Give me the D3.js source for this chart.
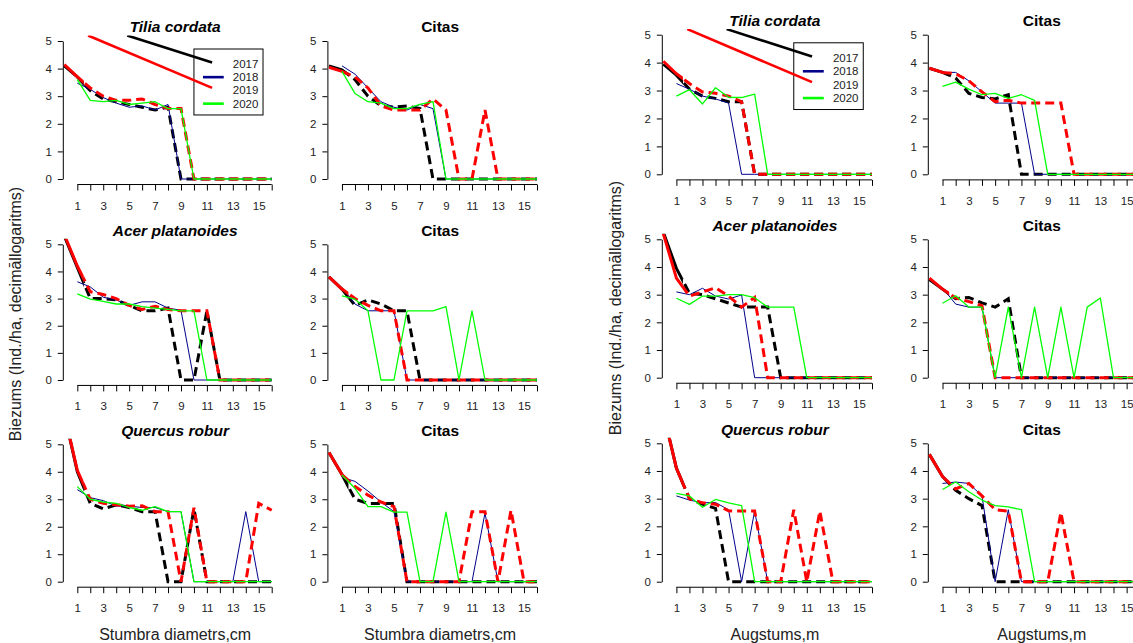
<!DOCTYPE html>
<html>
<head>
<meta charset="UTF-8">
<title>Biezums pa klasēm</title>
<script src="https://cdn.jsdelivr.net/npm/d3@7"></script>
<style>
  body { margin: 0; background: #fff; }
  text { font-family: "Liberation Sans", Arial, sans-serif; }
</style>
</head>
<body>
<div id="vis"></div>
<script>
// classes on the x axis (0 = first class, only measured in 2017 and 2019)
var classes = [0, 1, 2, 3, 4, 5, 6, 7, 8, 9, 10, 11, 12, 13, 14, 15, 16];
var years = ["2017", "2018", "2019", "2020"];
var yTicks = [0, 1, 2, 3, 4, 5];
var xTicks = [1, 2, 3, 4, 5, 6, 7, 8, 9, 10, 11, 12, 13, 14, 15, 16];
var xTickLabels = ["1", "", "3", "", "5", "", "7", "", "9", "", "11", "", "13", "", "15", ""];

// values: one row per year (2017, 2018, 2019, 2020), one column per class 0..16
var tiliaDiam = [
  [4.1, 3.7, 3.2, 2.9, 2.8, 2.7, 2.6, 2.5, 2.6, 0, 0, 0, 0, 0, 0, 0, 0],
  [null, 3.47, 3.25, 2.95, 2.75, 2.6, 2.65, 2.5, 2.7, 0, 0, 0, 0, 0, 0, 0, 0],
  [4.15, 3.7, 3.3, 3.0, 2.85, 2.85, 2.9, 2.7, 2.55, 2.55, 0, 0, 0, 0, 0, 0, 0],
  [null, 3.6, 2.85, 2.8, 2.85, 2.7, 2.75, 2.8, 2.55, 2.55, 0, 0, 0, 0, 0, 0, 0]
];
var tiliaCitasDiam = [
  [4.1, 3.95, 3.6, 3.0, 2.65, 2.6, 2.65, 2.55, 0, 0, 0, 0, 0, 0, 0, 0, 0],
  [null, 4.1, 3.8, 3.3, 2.8, 2.6, 2.5, 2.7, 2.55, 0, 0, 0, 0, 0, 0, 0, 0],
  [4.05, 3.9, 3.7, 3.3, 2.65, 2.5, 2.5, 2.5, 2.9, 2.5, 0, 0, 2.5, 0, 0, 0, 0],
  [null, 3.9, 3.1, 2.8, 2.75, 2.55, 2.55, 2.7, 2.8, 0, 0, 0, 0, 0, 0, 0, 0]
];
var tiliaHeight = [
  [3.95, 3.55, 3.05, 2.8, 2.72, 2.6, 2.6, 0, 0, 0, 0, 0, 0, 0, 0, 0, 0],
  [null, 3.25, 3.05, 2.8, 2.7, 2.55, 0, 0, 0, 0, 0, 0, 0, 0, 0, 0, 0],
  [4.05, 3.6, 3.25, 2.95, 2.9, 2.8, 2.6, 0, 0, 0, 0, 0, 0, 0, 0, 0, 0],
  [null, 2.8, 3.03, 2.52, 3.1, 2.76, 2.75, 2.87, 0, 0, 0, 0, 0, 0, 0, 0, 0]
];
var tiliaCitasHeight = [
  [3.8, 3.65, 3.45, 2.9, 2.75, 2.7, 2.85, 0, 0, 0, 0, 0, 0, 0, 0, 0, 0],
  [null, 3.65, 3.65, 3.35, 2.95, 2.55, 2.55, 2.55, 0, 0, 0, 0, 0, 0, 0, 0, 0],
  [3.8, 3.65, 3.6, 3.35, 2.95, 2.6, 2.65, 2.55, 2.55, 2.55, 2.55, 0, 0, 0, 0, 0, 0],
  [null, 3.15, 3.3, 3.05, 2.85, 2.9, 2.72, 2.85, 2.65, 0, 0, 0, 0, 0, 0, 0, 0]
];
var acerDiam = [
  [5.3, 4.15, 3.0, 3.0, 2.95, 2.75, 2.55, 2.55, 2.65, 0, 0, 2.55, 0, 0, 0, 0, 0],
  [null, 3.62, 3.43, 3.05, 2.95, 2.75, 2.88, 2.88, 2.65, 2.57, 0, 0, 0, 0, 0, 0, 0],
  [5.35, 4.2, 3.25, 3.15, 3.0, 2.75, 2.6, 2.72, 2.6, 2.55, 2.55, 2.55, 0, 0, 0, 0, 0],
  [null, 3.17, 2.98, 2.9, 2.8, 2.8, 2.7, 2.65, 2.6, 2.55, 2.55, 0, 0, 0, 0, 0, 0]
];
var acerCitasDiam = [
  [3.8, 3.35, 2.75, 2.95, 2.8, 2.55, 2.55, 0, 0, 0, 0, 0, 0, 0, 0, 0, 0],
  [null, 3.4, 2.8, 2.55, 2.55, 2.55, 0, 0, 0, 0, 0, 0, 0, 0, 0, 0, 0],
  [3.8, 3.35, 3.0, 2.75, 2.55, 2.55, 0, 0, 0, 0, 0, 0, 0, 0, 0, 0, 0],
  [null, 3.1, 2.98, 2.55, 0, 0, 2.55, 2.55, 2.55, 2.7, 0, 2.55, 0, 0, 0, 0, 0]
];
var acerHeight = [
  [5.25, 3.95, 3.05, 3.0, 2.85, 2.7, 2.55, 2.55, 2.55, 0, 0, 0, 0, 0, 0, 0, 0],
  [null, 3.1, 3.0, 3.23, 2.95, 2.84, 2.99, 0, 0, 0, 0, 0, 0, 0, 0, 0, 0],
  [5.2, 3.6, 2.95, 3.1, 3.25, 2.95, 2.55, 2.9, 0, 0, 0, 0, 0, 0, 0, 0, 0],
  [null, 2.87, 2.65, 2.95, 2.95, 3.0, 3.0, 2.89, 2.55, 2.55, 2.55, 0, 0, 0, 0, 0, 0]
];
var acerCitasHeight = [
  [3.55, 3.2, 2.85, 2.9, 2.7, 2.55, 2.85, 0, 0, 0, 0, 0, 0, 0, 0, 0, 0],
  [null, 3.24, 2.66, 2.55, 2.55, 0, 0, 0, 0, 0, 0, 0, 0, 0, 0, 0, 0],
  [3.6, 3.2, 2.88, 2.75, 2.6, 0, 0, 0, 0, 0, 0, 0, 0, 0, 0, 0, 0],
  [null, 2.69, 2.96, 2.55, 2.55, 0, 2.55, 0, 2.55, 0, 2.55, 0, 2.55, 2.88, 0, 0, 0]
];
var quercusDiam = [
  [6.1, 4.0, 2.85, 2.65, 2.8, 2.7, 2.55, 2.55, 0, 0, 2.65, 0, 0, 0, 0, 0, 0],
  [null, 3.35, 3.06, 2.95, 2.75, 2.75, 2.7, 2.7, 2.55, 2.55, 0, 0, 0, 0, 2.55, 0, 0],
  [6.1, 4.05, 3.0, 2.85, 2.8, 2.75, 2.76, 2.55, 2.55, 0, 2.69, 0, 0, 0, 0, 2.85, 2.6],
  [null, 3.46, 3.0, 2.9, 2.85, 2.7, 2.6, 2.73, 2.55, 2.55, 0, 0, 0, 0, 0, 0, 0]
];
var quercusCitasDiam = [
  [4.7, 3.9, 3.0, 2.85, 2.85, 2.85, 0, 0, 0, 0, 0, 0, 0, 0, 0, 0, 0],
  [null, 3.8, 3.65, 3.3, 2.9, 2.55, 0, 0, 0, 0, 0, 0, 2.5, 0, 0, 0, 0],
  [4.7, 3.9, 3.46, 3.15, 2.9, 2.73, 0, 0, 0, 0, 0, 2.55, 2.55, 0, 2.6, 0, 0],
  [null, 3.88, 3.4, 2.73, 2.73, 2.53, 2.53, 0, 0, 2.53, 0, 0, 0, 0, 0, 0, 0]
];
var quercusHeight = [
  [6.1, 4.1, 3.0, 2.8, 2.65, 0, 0, 0, 0, 0, 0, 0, 0, 0, 0, 0, 0],
  [null, 3.1, 2.95, 2.85, 2.86, 2.6, 0, 2.56, 0, 0, 0, 0, 0, 0, 0, 0, 0],
  [6.1, 4.1, 3.0, 2.85, 2.8, 2.56, 2.55, 2.55, 0, 0, 2.6, 0, 2.55, 0, 0, 0, 0],
  [null, 3.19, 3.1, 2.69, 2.97, 2.85, 2.75, 0, 0, 0, 0, 0, 0, 0, 0, 0, 0]
];
var quercusCitasHeight = [
  [4.6, 3.8, 3.3, 3.0, 2.75, 0, 0, 0, 0, 0, 0, 0, 0, 0, 0, 0, 0],
  [null, 3.55, 3.6, 3.55, 3.1, 0, 2.6, 0, 0, 0, 0, 0, 0, 0, 0, 0, 0],
  [4.6, 3.8, 3.35, 3.55, 3.1, 2.6, 2.55, 0, 0, 0, 2.5, 0, 0, 0, 0, 0, 0],
  [null, 3.33, 3.6, 3.25, 2.95, 2.75, 2.7, 2.6, 0, 0, 0, 0, 0, 0, 0, 0, 0]
];

var width = 1133, height = 643;
var font = "'Liberation Sans', Arial, sans-serif";

var colors = ["#000000", "#00008b", "#ff0000", "#00ff00"];
var widths = [3, 1, 3, 1.3];
var dashed = [true, false, true, false];

// pixel frames of the four columns and three rows
var cols = [[62.8, 271.7], [327.4, 537], [661.8, 872], [927.8, 1139.8]];
var rowsLeft = [[179, 41], [380, 244.3], [581.7, 444.3]];
var rowsRight = [[174.3, 34.7], [377.7, 239.3], [581.7, 443.3]];

var panels = [
  {data: tiliaDiam, title: "Tilia cordata", italic: true, col: 0, row: 0, legend: true},
  {data: tiliaCitasDiam, title: "Citas", col: 1, row: 0},
  {data: tiliaHeight, title: "Tilia cordata", italic: true, col: 2, row: 0, legend: true},
  {data: tiliaCitasHeight, title: "Citas", col: 3, row: 0},
  {data: acerDiam, title: "Acer platanoides", italic: true, col: 0, row: 1},
  {data: acerCitasDiam, title: "Citas", col: 1, row: 1},
  {data: acerHeight, title: "Acer platanoides", italic: true, col: 2, row: 1},
  {data: acerCitasHeight, title: "Citas", col: 3, row: 1},
  {data: quercusDiam, title: "Quercus robur", italic: true, col: 0, row: 2, xlab: "Stumbra diametrs,cm"},
  {data: quercusCitasDiam, title: "Citas", col: 1, row: 2, xlab: "Stumbra diametrs,cm"},
  {data: quercusHeight, title: "Quercus robur", italic: true, col: 2, row: 2, xlab: "Augstums,m"},
  {data: quercusCitasHeight, title: "Citas", col: 3, row: 2, xlab: "Augstums,m"}
];

// legend box and the two stray legend segments, in data units
var legendBox = [10.0, 15.33, 4.71, 2.32];
var legendRows = [4.17, 3.69, 3.21, 2.73];
var strayLines = [
  {year: 0, from: [4.85, 5.2], to: [11.4, 4.22]},
  {year: 2, from: [1.83, 5.2], to: [11.4, 3.3]}
];

// regular dashes after the solid start
var dashArr = [];
for (var k = 0; k < 60; k++) dashArr.push(9, 5);
dashArr = dashArr.join(",");

var svg = d3.select("#vis").append("svg")
  .attr("width", width)
  .attr("height", height)
  .style("display", "block");

svg.append("rect").attr("width", width).attr("height", height).attr("fill", "#fff");

panels.forEach(function(p, i) {
  var rows = p.col < 2 ? rowsLeft : rowsRight;
  var x = d3.scaleLinear().domain([-0.12, 16]).range(cols[p.col]);
  var y = d3.scaleLinear().domain([0, 5]).range(rows[p.row]);
  var g = svg.append("g");

  var clipId = "clip" + i;
  svg.append("clipPath").attr("id", clipId)
    .append("rect")
    .attr("x", x(-0.64)).attr("y", y(5.2))
    .attr("width", x(16.64) - x(-0.64))
    .attr("height", y(-0.2) - y(5.2));
  var solidId = "solid" + i, dashId = "dash" + i;
  svg.append("clipPath").attr("id", solidId)
    .append("rect")
    .attr("x", x(-0.64)).attr("y", y(5.2))
    .attr("width", x(1.5) - x(-0.64))
    .attr("height", y(-0.2) - y(5.2));
  svg.append("clipPath").attr("id", dashId)
    .append("rect")
    .attr("x", x(1.5)).attr("y", y(5.2))
    .attr("width", x(16.64) - x(1.5))
    .attr("height", y(-0.2) - y(5.2));

  // y axis
  var yAxis = d3.axisLeft(y).tickValues(yTicks).tickFormat(d3.format("d"))
    .tickSize(5).tickSizeOuter(0).tickPadding(6);
  var ya = g.append("g").attr("transform", "translate(" + x(-0.12) + ",0)").call(yAxis);
  ya.select(".domain").attr("stroke", "#000").attr("stroke-width", 1);
  ya.selectAll(".tick line").attr("stroke", "#000");
  ya.selectAll("text").attr("font-size", "11.5px").attr("font-family", font).attr("fill", "#222");

  // x axis
  var xAxis = d3.axisBottom(x).tickValues(xTicks).tickSize(6).tickSizeOuter(0)
    .tickFormat(function(d, j) { return xTickLabels[j]; });
  var xa = g.append("g").attr("transform", "translate(0," + y(-0.2) + ")").call(xAxis);
  xa.select(".domain").remove();
  xa.append("line").attr("x1", x(1)).attr("x2", x(16)).attr("stroke", "#000");
  xa.selectAll(".tick line").attr("stroke", "#000");
  xa.selectAll("text").attr("y", 21).attr("dy", "0.35em")
    .attr("font-size", "11.5px").attr("font-family", font).attr("fill", "#222");

  // series
  var line = d3.line()
    .defined(function(d) { return d != null; })
    .x(function(d, j) { return x(classes[j]); })
    .y(function(d) { return y(d); });
  var lg = g.append("g").attr("clip-path", "url(#" + clipId + ")");
  p.data.forEach(function(vals, s) {
    if (dashed[s]) {
      lg.append("path").attr("d", line(vals))
        .attr("clip-path", "url(#" + solidId + ")")
        .attr("fill", "none").attr("stroke", colors[s]).attr("stroke-width", widths[s])
        .attr("stroke-linejoin", "round");
      lg.append("path").attr("d", line(vals))
        .attr("clip-path", "url(#" + dashId + ")")
        .attr("fill", "none").attr("stroke", colors[s]).attr("stroke-width", widths[s])
        .attr("stroke-dasharray", dashArr);
    } else {
      lg.append("path").attr("d", line(vals))
        .attr("fill", "none").attr("stroke", colors[s]).attr("stroke-width", widths[s])
        .attr("stroke-linejoin", "round");
    }
  });

  // legend
  if (p.legend) {
    g.append("rect")
      .attr("x", x(legendBox[0])).attr("y", y(legendBox[2]))
      .attr("width", x(legendBox[1]) - x(legendBox[0]))
      .attr("height", y(legendBox[3]) - y(legendBox[2]))
      .attr("fill", "#fff").attr("stroke", "#000").attr("stroke-width", 1);
    years.forEach(function(yr, s) {
      if (!dashed[s]) {
        g.append("line")
          .attr("x1", x(10.7)).attr("x2", x(12.3))
          .attr("y1", y(legendRows[s])).attr("y2", y(legendRows[s]))
          .attr("stroke", colors[s]).attr("stroke-width", 2.6);
      }
      g.append("text")
        .attr("x", x(13.0)).attr("y", y(legendRows[s]))
        .attr("dy", "0.35em")
        .attr("font-size", "11.5px").attr("font-family", font).attr("fill", "#222")
        .text(yr);
    });
    var sg = g.append("g").attr("clip-path", "url(#" + clipId + ")");
    strayLines.forEach(function(l) {
      sg.append("line")
        .attr("x1", x(l.from[0])).attr("y1", y(l.from[1]))
        .attr("x2", x(l.to[0])).attr("y2", y(l.to[1]))
        .attr("stroke", colors[l.year]).attr("stroke-width", 2.6);
    });
  }

  // panel title
  g.append("text")
    .attr("x", x(8.55)).attr("y", y(5) - 14)
    .attr("dy", "0.35em")
    .attr("text-anchor", "middle")
    .attr("font-size", "15.5px").attr("font-weight", "bold")
    .attr("font-style", p.italic ? "italic" : "normal")
    .attr("font-family", font).attr("fill", "#000")
    .text(p.title);

  // x axis title under the bottom row
  if (p.xlab) {
    g.append("text")
      .attr("x", x(8.55)).attr("y", y(-0.2) + 47)
      .attr("dy", "0.35em")
      .attr("text-anchor", "middle")
      .attr("font-size", "16px").attr("font-family", font).attr("fill", "#222")
      .text(p.xlab);
  }
});

// y axis titles for the two halves
[[15, 314], [615, 308]].forEach(function(pos) {
  svg.append("text")
    .attr("transform", "translate(" + pos[0] + "," + pos[1] + ") rotate(-90)")
    .attr("dy", "0.35em")
    .attr("text-anchor", "middle")
    .attr("font-size", "16px").attr("font-family", font).attr("fill", "#222")
    .text("Biezums (Ind./ha, decimāllogaritms)");
});
</script>
</body>
</html>
